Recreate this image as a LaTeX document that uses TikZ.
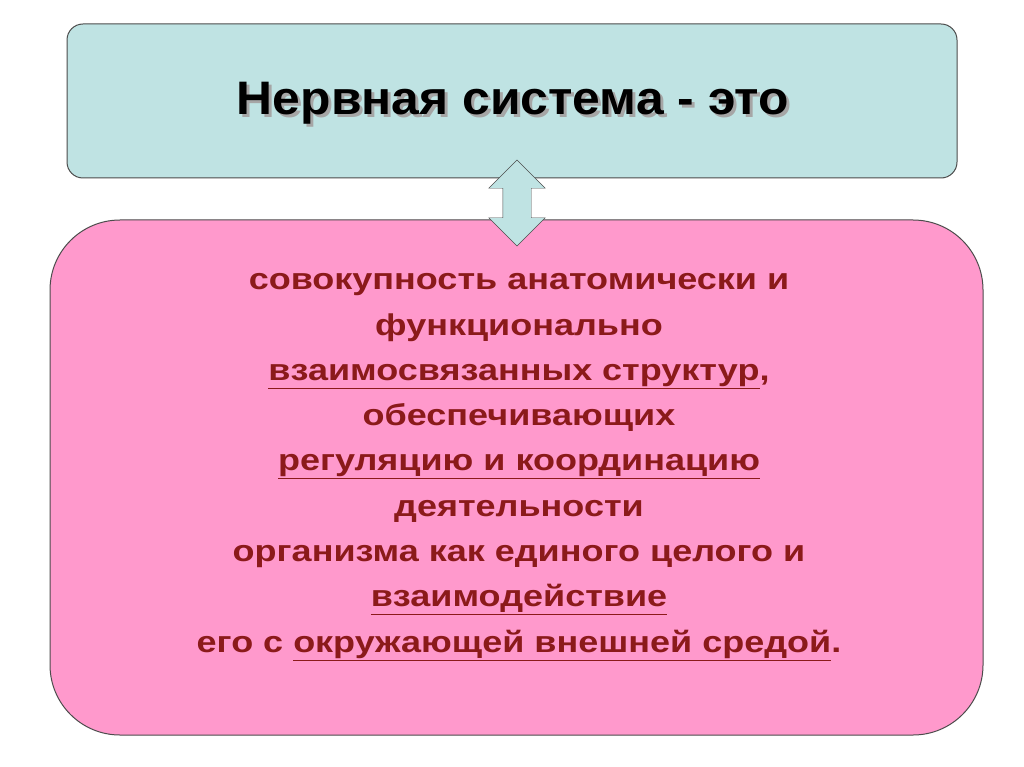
\documentclass[tikz,border=0pt]{standalone}
\usepackage{fontspec}
\setmainfont{Liberation Sans}
\usetikzlibrary{shapes.arrows}
\definecolor{topfill}{HTML}{BFE3E3}
\definecolor{pinkfill}{HTML}{FF99CC}
\definecolor{redtxt}{HTML}{8B1A1A}
\tikzset{box/.style={draw=black!70,line width=1pt}}
\newcommand{\ul}[1]{\underline{#1}}
\begin{document}
\begin{tikzpicture}[x=1pt,y=-1pt]
\useasboundingbox (0,0) rectangle (1024,767);
\fill[white] (0,0) rectangle (1024,767);
\draw[box,fill=topfill,rounded corners=16] (67,24) rectangle (957,178);
\node (tsh) at (516,106) [xscale=1.06] {\fontsize{47}{50}\selectfont\bfseries\color{black!35}Нервная система - это};
\node (title) at (513,103) [xscale=1.06] {\fontsize{47}{50}\selectfont\bfseries Нервная система - это};
\draw[box,fill=pinkfill,rounded corners=70] (50,220) rectangle (983,735);
\node (arr) at (517,203) [draw=black!70,fill=topfill,double arrow,double arrow head extend=14pt,minimum width=56pt,minimum height=86pt,inner sep=0pt,shape border rotate=90,text width=28pt] {};
\node (body) at (519,467) [xscale=1.2,align=center,text=redtxt,font=\fontsize{30}{45.3}\selectfont\bfseries]
{совокупность анатомически и\\
функционально\\
\ul{взаимосвязанных структур},\\
обеспечивающих\\
\ul{регуляцию и координацию}\\
деятельности\\
организма как единого целого и\\
\ul{взаимодействие}\\
его с \ul{окружающей внешней средой}.};
\end{tikzpicture}
\end{document}
